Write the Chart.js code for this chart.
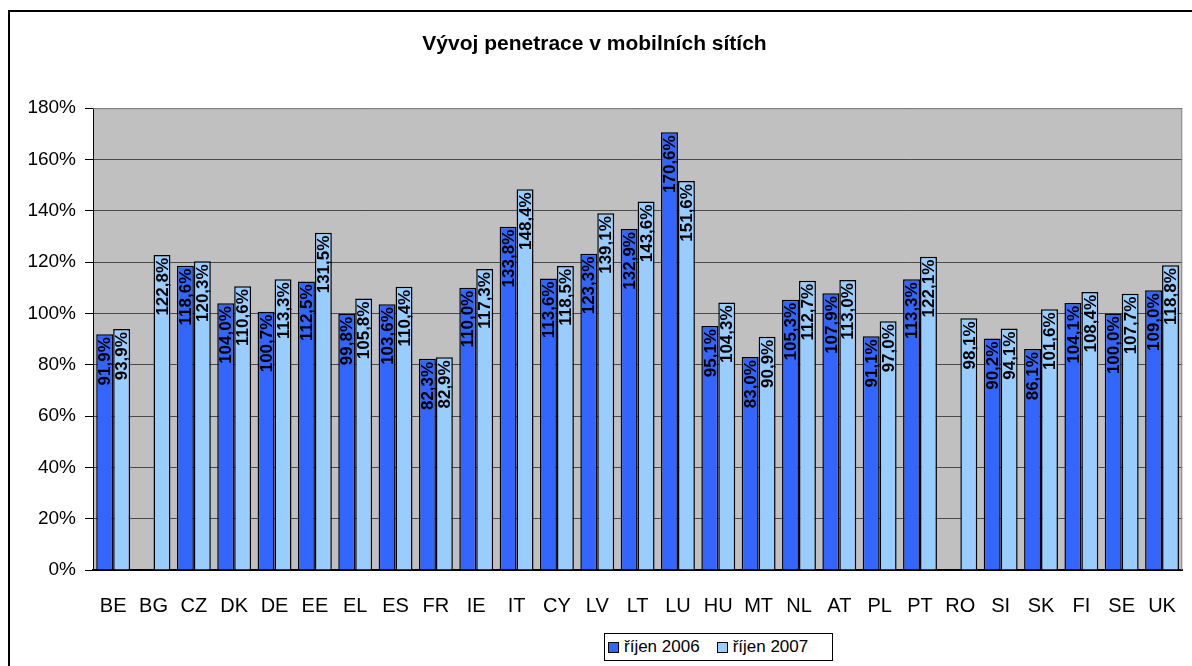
<!DOCTYPE html>
<html>
<head>
<meta charset="utf-8">
<script src="https://cdn.jsdelivr.net/npm/chart.js@4"></script>
<style>
  body { margin: 0; background: #fff; font-family: "Liberation Sans", Arial, sans-serif; }
  #wrap { position: relative; width: 1192px; height: 666px; }
  #legend {
    position: absolute; left: 604px; top: 633px; width: 229px; height: 28px;
    border: 1px solid #000; box-sizing: border-box; background: #fff;
    display: flex; align-items: center; font-size: 17px; color: #000;
  }
  #legend span.item { display: flex; align-items: center; margin-left: 3px; margin-right: 14px; }
  #legend i { display: inline-block; width: 9px; height: 9px; border: 1px solid #000; margin-right: 5px; }
</style>
</head>
<body>
<div id="wrap">
  <canvas id="myChart" width="1192" height="666"></canvas>
  <div id="legend"></div>
</div>
<script>
  const countries = ["BE", "BG", "CZ", "DK", "DE", "EE", "EL", "ES", "FR", "IE", "IT", "CY", "LV", "LT",
    "LU", "HU", "MT", "NL", "AT", "PL", "PT", "RO", "SI", "SK", "FI", "SE", "UK"];
  const oct2006 = [91.9, null, 118.6, 104.0, 100.7, 112.5, 99.8, 103.6, 82.3, 110.0, 133.8, 113.6, 123.3, 132.9,
    170.6, 95.1, 83.0, 105.3, 107.9, 91.1, 113.3, null, 90.2, 86.1, 104.1, 100.0, 109.0];
  const oct2007 = [93.9, 122.8, 120.3, 110.6, 113.3, 131.5, 105.8, 110.4, 82.9, 117.3, 148.4, 118.5, 139.1, 143.6,
    151.6, 104.3, 90.9, 112.7, 113.0, 97.0, 122.1, 98.1, 94.1, 101.6, 108.4, 107.7, 118.8];
  const seriesNames = ["říjen 2006", "říjen 2007"];
  const yTicks = [0, 20, 40, 60, 80, 100, 120, 140, 160, 180];

  const colors = ["#3366ff", "#99ccff"];

  // plot background, outer frame
  const framePlugin = {
    id: "frame",
    beforeDraw(chart) {
      const ctx = chart.ctx;
      const a = chart.chartArea;
      ctx.save();
      ctx.fillStyle = "#c0c0c0";
      ctx.fillRect(a.left, a.top, a.right - a.left, a.bottom - a.top);
      ctx.strokeStyle = "#000";
      ctx.lineWidth = 2;
      ctx.strokeRect(9, 11, 1300, 800);
      ctx.restore();
    },
    afterDatasetsDraw(chart) {
      const ctx = chart.ctx;
      const a = chart.chartArea;
      ctx.save();
      ctx.strokeStyle = "#8a8a8a";
      ctx.lineWidth = 1;
      ctx.beginPath();
      ctx.moveTo(a.left, a.top + 0.5);
      ctx.lineTo(a.right - 0.5, a.top + 0.5);
      ctx.lineTo(a.right - 0.5, a.bottom);
      ctx.stroke();
      ctx.restore();
    }
  };

  // vertical value labels inside the bars
  const barLabels = {
    id: "barLabels",
    afterDatasetsDraw(chart) {
      const ctx = chart.ctx;
      ctx.save();
      ctx.font = "bold 17px 'Liberation Sans', Arial, sans-serif";
      ctx.fillStyle = "#000";
      ctx.textAlign = "right";
      ctx.textBaseline = "middle";
      chart.data.datasets.forEach((ds, i) => {
        chart.getDatasetMeta(i).data.forEach((bar, j) => {
          const v = ds.data[j];
          if (v == null) return;
          const txt = v.toFixed(1).replace(".", ",") + "%";
          ctx.save();
          ctx.translate(bar.x + 1, bar.y + 3);
          ctx.rotate(-Math.PI / 2);
          ctx.fillText(txt, 0, 0);
          ctx.restore();
        });
      });
      ctx.restore();
    }
  };

  function generateChart() {
    const info = {
      labels: countries,
      datasets: seriesNames.map((name, i) => ({
        label: name,
        data: i === 0 ? oct2006 : oct2007,
        backgroundColor: colors[i],
        borderColor: "#000",
        borderWidth: 1.5,
        borderSkipped: "bottom",
        categoryPercentage: 0.84,
        barPercentage: 1,
      })),
    };
    const options = {
      responsive: false,
      animation: false,
      layout: { padding: { left: 0, right: 3, top: 0, bottom: 0 } },
      scales: {
        y: {
          min: 0,
          max: 180,
          afterBuildTicks: (scale) => { scale.ticks = yTicks.map((v) => ({ value: v })); },
          afterFit: (scale) => { scale.width = 93; },
          ticks: {
            callback: (v) => v + "%",
            color: "#000",
            padding: 9,
            font: { family: "'Liberation Sans', Arial, sans-serif", size: 19 },
          },
          grid: { color: "#4a4a4a", tickColor: "#000", tickLength: 8 },
          border: { color: "#000", width: 1 },
        },
        x: {
          afterFit: (scale) => { scale.height = 96; },
          ticks: {
            color: "#000",
            padding: 16,
            maxRotation: 0,
            autoSkip: false,
            font: { family: "'Liberation Sans', Arial, sans-serif", size: 20 },
          },
          grid: { display: false },
          border: { color: "#000", width: 2 },
        },
      },
      plugins: {
        legend: { display: false },
        tooltip: { enabled: false },
        title: {
          display: true,
          text: "Vývoj penetrace v mobilních sítích",
          color: "#000",
          font: { family: "'Liberation Sans', Arial, sans-serif", size: 21, weight: "bold" },
          padding: { top: 32, bottom: 51 },
        },
      },
    };
    new Chart(document.getElementById("myChart"), {
      type: "bar",
      data: info,
      options,
      plugins: [framePlugin, barLabels],
    });

    document.getElementById("legend").innerHTML = seriesNames
      .map((n, i) => `<span class="item"><i style="background:${colors[i]}"></i>${n}</span>`)
      .join("");
  }
  generateChart();
</script>
</body>
</html>
